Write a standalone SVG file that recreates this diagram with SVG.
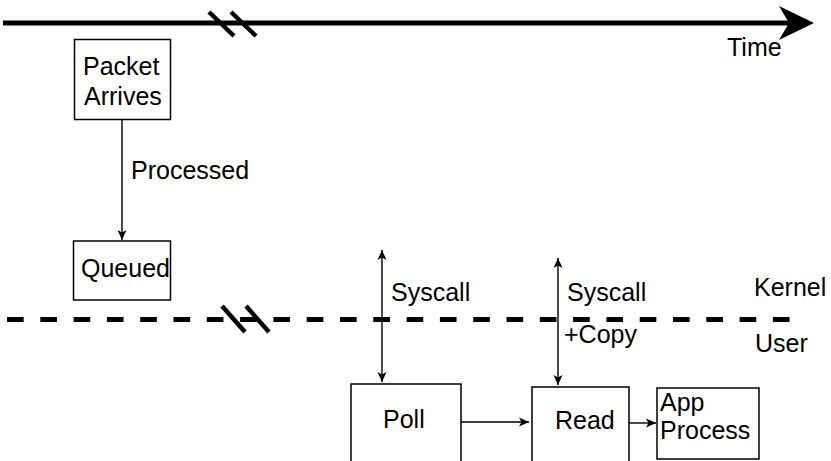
<svg xmlns="http://www.w3.org/2000/svg" width="831" height="461" viewBox="0 0 831 461">
  <style>
    text { font-family: "Liberation Sans", Arial, sans-serif; font-size: 25px; fill: #000; }
    .box { fill: #fff; stroke: #000; stroke-width: 1.5; }
    .conn { fill: none; stroke: #000; stroke-width: 1.4; }
    .axis { fill: none; stroke: #000; stroke-width: 5; }
    .brk { fill: none; stroke: #000; stroke-width: 4.5; }
  </style>
  <defs>
    <marker id="tip" markerUnits="userSpaceOnUse" markerWidth="14" markerHeight="12" viewBox="-11 -6 14 12" refX="0" refY="0" orient="auto-start-reverse">
      <path d="M-10,-4.5 L0,0 L-10,4.5 L-7.5,0 Z" fill="#000"/>
    </marker>
  </defs>

  <!-- time axis with break mark -->
  <g id="time-axis">
    <line class="axis" x1="3" y1="23" x2="792" y2="23"/>
    <path d="M779,6 L814,23 L779,40 L789,23 Z" fill="#000"/>
    <line class="brk" x1="209" y1="12" x2="234" y2="36"/>
    <line class="brk" x1="231" y1="12" x2="256" y2="36"/>
    <text x="727" y="56">Time</text>
  </g>

  <!-- kernel / user boundary -->
  <g id="boundary">
    <line x1="7" y1="319.5" x2="790" y2="319.5" stroke="#000" stroke-width="5" stroke-dasharray="16.65 16.65"/>
    <line class="brk" x1="222" y1="306" x2="245" y2="332"/>
    <line class="brk" x1="246" y1="306" x2="269" y2="332"/>
    <text x="754" y="296">Kernel</text>
    <text x="755" y="352">User</text>
  </g>

  <!-- connectors -->
  <g id="connectors">
    <line class="conn" x1="122" y1="119" x2="122" y2="240" marker-end="url(#tip)"/>
    <line class="conn" x1="382" y1="250" x2="382" y2="382" marker-start="url(#tip)" marker-end="url(#tip)"/>
    <line class="conn" x1="558" y1="258" x2="558" y2="385" marker-start="url(#tip)" marker-end="url(#tip)"/>
    <line class="conn" x1="461" y1="422" x2="529" y2="422" marker-end="url(#tip)"/>
    <line class="conn" x1="629" y1="423" x2="656" y2="423" marker-end="url(#tip)"/>
    <text x="131" y="179">Processed</text>
    <text x="391" y="301">Syscall</text>
    <text x="567" y="301">Syscall</text>
    <text x="564" y="343">+Copy</text>
  </g>

  <g id="packet-arrives">
    <rect class="box" x="74.5" y="39.5" width="96" height="80"/>
    <text x="83" y="75">Packet</text>
    <text x="84" y="105">Arrives</text>
  </g>

  <g id="queued">
    <rect class="box" x="73.5" y="241" width="97" height="59"/>
    <text x="81" y="277">Queued</text>
  </g>

  <g id="poll">
    <path class="box" d="M351,465 V384 H461 V465"/>
    <text x="383" y="428">Poll</text>
  </g>

  <g id="read">
    <path class="box" d="M532,465 V387 H629 V465"/>
    <text x="555" y="429">Read</text>
  </g>

  <g id="app-process">
    <rect class="box" x="657" y="388" width="102" height="71"/>
    <text x="660" y="411">App</text>
    <text x="660" y="439">Process</text>
  </g>
</svg>
